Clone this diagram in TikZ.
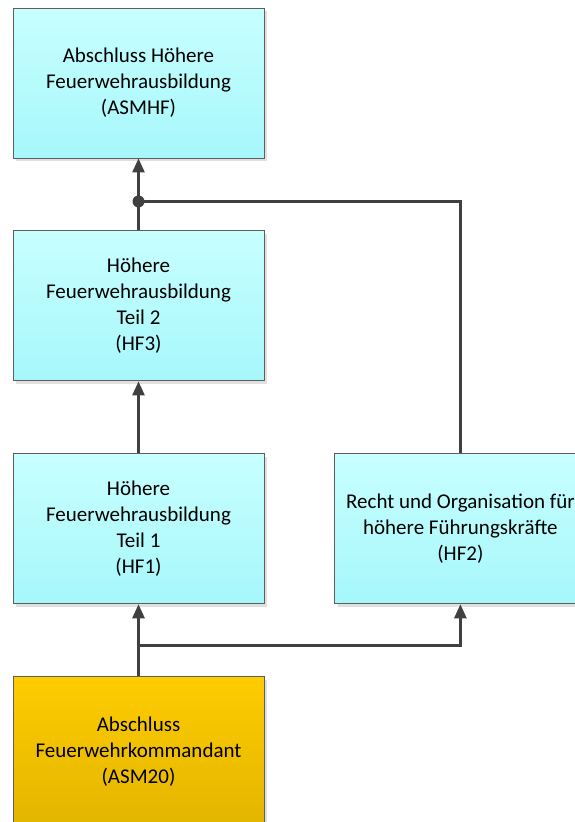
\documentclass[tikz,border=0pt]{standalone}
\usepackage{fontspec}
\setmainfont{Carlito}
\usetikzlibrary{positioning,shadows,arrows.meta,calc}
\definecolor{cyantop}{HTML}{C8FFFF}
\definecolor{cyanbot}{HTML}{A6F7FB}
\definecolor{goldtop}{HTML}{FFCC00}
\definecolor{goldbot}{HTML}{E2B500}
\definecolor{boxline}{HTML}{5E5E5E}
\definecolor{linegray}{HTML}{404040}
\begin{document}
\begin{tikzpicture}
		[x=1pt,y=1pt,
		node distance=72pt and 70pt,
		box/.style={draw=boxline, line width=0.9pt,
			minimum width=251pt, minimum height=150pt,
			align=center, font=\fontsize{21}{26}\selectfont,
			drop shadow={shadow xshift=3pt, shadow yshift=-3pt,
				fill=black!12, opacity=1}},
		course/.style={box, top color=cyantop, bottom color=cyanbot},
		exam/.style={box, top color=goldtop, bottom color=goldbot},
		link/.style={draw=linegray, line width=2.6pt},
		arrow/.style={link, -{Triangle[length=14pt,width=12pt]}}]
		\useasboundingbox (0,0) rectangle (574,-822);
		% Abschluesse und Lehrgaenge
		\node[course] (asmhf) at (138.5,-83) {Abschluss Höhere\\Feuerwehrausbildung\\(ASMHF)};
		\node[course, below=of asmhf] (hf3) {Höhere\\Feuerwehrausbildung\\Teil 2\\(HF3)};
		\node[course, below=of hf3] (hf1) {Höhere\\Feuerwehrausbildung\\Teil 1\\(HF1)};
		\node[course, right=of hf1] (hf2) {Recht und Organisation für\\höhere Führungskräfte\\(HF2)};
		\node[exam, below=of hf1] (asm20) {Abschluss\\Feuerwehrkommandant\\(ASM20)};
		% Verzweigungen
		\coordinate (join) at ($(asmhf.south)+(0,-43)$);
		\coordinate (fork) at ($(asm20.north)+(0,31)$);
		\draw[arrow] (hf3) -- (asmhf);
		\draw[arrow] (hf1) -- (hf3);
		\draw[arrow] (asm20) -- (hf1);
		\draw[link] (hf2.north) |- (join);
		\draw[arrow] (fork) -| (hf2.south);
		\fill[linegray] (join) circle (6pt);
	\end{tikzpicture}
\end{document}
